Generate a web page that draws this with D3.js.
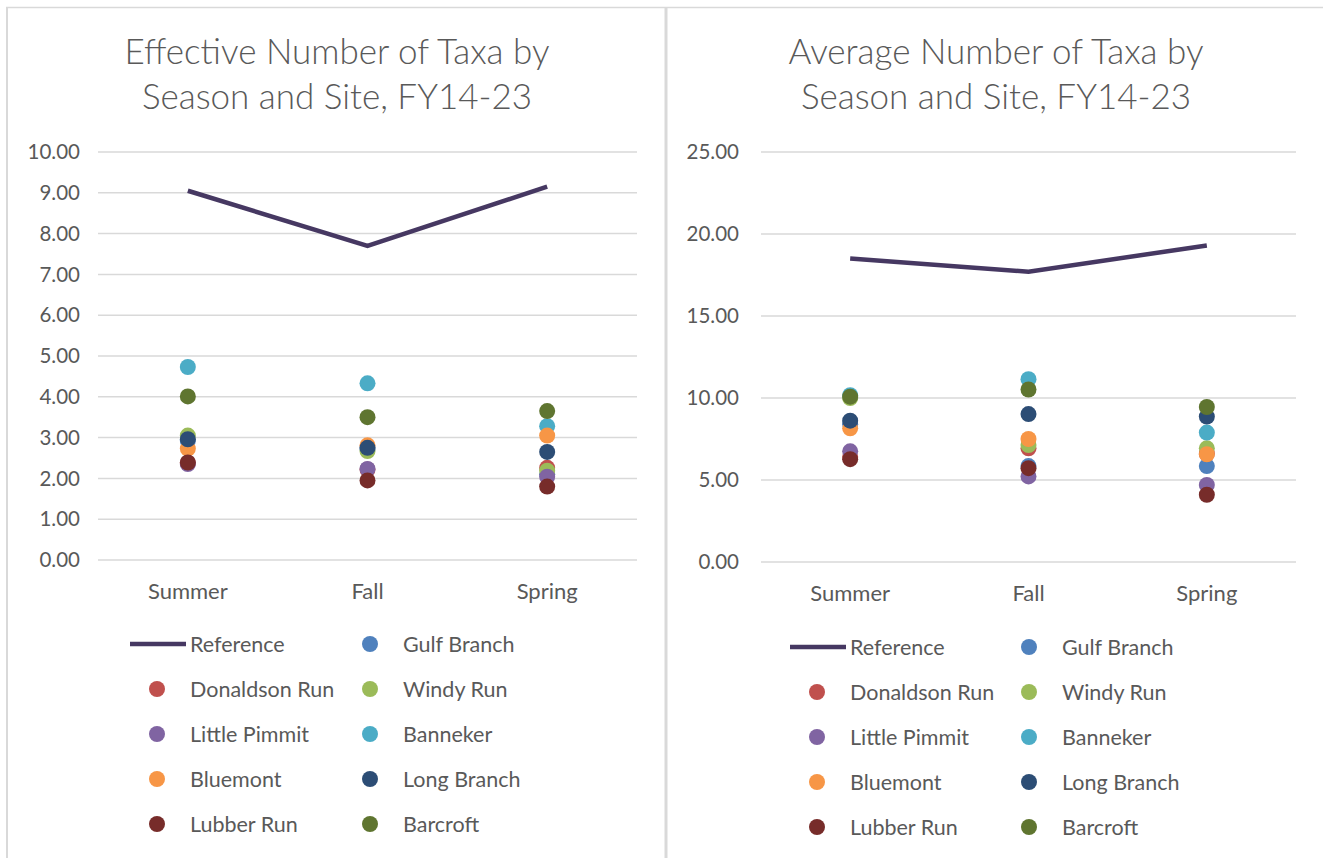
<!DOCTYPE html>
<html>
<head>
<meta charset="utf-8">
<script src="https://cdn.jsdelivr.net/npm/d3@7"></script>
<style>
  body { margin: 0; background: #fff; }
  svg { display: block; }
  text { font-family: Lato, "Open Sans", sans-serif; fill: #595959; }
</style>
</head>
<body>
<svg id="chart" width="1323" height="858"></svg>
<script>
// seasons on the x axis
const seasons = ["Summer", "Fall", "Spring"];

// site names, in legend / draw order
const sites = ["Gulf Branch", "Donaldson Run", "Windy Run", "Little Pimmit", "Banneker",
  "Bluemont", "Long Branch", "Lubber Run", "Barcroft"];
const siteColors = ["#4f81bd", "#c0504d", "#9bbb59", "#8064a2", "#4bacc6",
  "#f79646", "#2c4d75", "#772c2a", "#5f7530"];

// effective number of taxa (left chart), per site: Summer, Fall, Spring
const effReference = [9.05, 7.70, 9.15];
const effSites = [
  [2.92, 2.72, 2.10],
  [2.38, 2.22, 2.26],
  [3.05, 2.67, 2.19],
  [2.35, 2.23, 2.04],
  [4.73, 4.33, 3.28],
  [2.73, 2.81, 3.05],
  [2.96, 2.75, 2.65],
  [2.39, 1.95, 1.80],
  [4.01, 3.50, 3.65]
];
const effTicks = [0, 1, 2, 3, 4, 5, 6, 7, 8, 9, 10];

// average number of taxa (right chart)
const avgReference = [18.5, 17.7, 19.3];
const avgSites = [
  [8.40, 5.85, 5.85],
  [6.40, 6.93, 6.60],
  [10.00, 7.13, 6.93],
  [6.75, 5.22, 4.70],
  [10.17, 11.15, 7.89],
  [8.15, 7.50, 6.57],
  [8.62, 9.02, 8.87],
  [6.27, 5.72, 4.10],
  [10.08, 10.52, 9.45]
];
const avgTicks = [0, 5, 10, 15, 20, 25];

const svg = d3.select("#chart");

// panel borders
svg.append("line").attr("x1", 6).attr("x2", 1323).attr("y1", 7.5).attr("y2", 7.5)
  .attr("stroke", "#d9d9d9").attr("stroke-width", 1.5);
svg.append("line").attr("x1", 7).attr("x2", 7).attr("y1", 7).attr("y2", 858)
  .attr("stroke", "#d9d9d9").attr("stroke-width", 2);
svg.append("line").attr("x1", 666).attr("x2", 666).attr("y1", 7).attr("y2", 858)
  .attr("stroke", "#d9d9d9").attr("stroke-width", 3);

function drawChart(opt) {
  const g = svg.append("g");

  const x = d3.scalePoint().domain(seasons).range([opt.left, opt.right]).padding(0.5);
  const y = d3.scaleLinear().domain([0, d3.max(opt.ticks)]).range([opt.bottom, opt.top]);

  // title
  g.selectAll(".title").data(opt.title).join("text")
    .attr("x", opt.titleX).attr("y", (d, i) => 64 + i * 45)
    .attr("text-anchor", "middle").attr("font-size", 35).attr("font-weight", 300)
    .text(d => d);

  // gridlines + y labels
  g.selectAll(".grid").data(opt.ticks).join("line")
    .attr("x1", opt.left).attr("x2", opt.right)
    .attr("y1", d => y(d)).attr("y2", d => y(d))
    .attr("stroke", "#d9d9d9").attr("stroke-width", 1.5);
  g.selectAll(".ylab").data(opt.ticks).join("text")
    .attr("x", opt.labelX).attr("y", d => y(d)).attr("dy", "0.35em")
    .attr("text-anchor", "end").attr("font-size", 20.5)
    .text(d => d.toFixed(2));

  // x labels
  g.selectAll(".xlab").data(seasons).join("text")
    .attr("x", d => x(d)).attr("y", opt.bottom + 31)
    .attr("dy", "0.35em").attr("text-anchor", "middle").attr("font-size", 22)
    .text(d => d);

  // reference line
  g.append("path")
    .datum(opt.reference)
    .attr("d", d3.line().x((d, i) => x(seasons[i])).y(d => y(d)))
    .attr("fill", "none").attr("stroke", "#463862").attr("stroke-width", 4.5);

  // site dots
  opt.siteData.forEach((vals, s) => {
    g.selectAll(null).data(vals).join("circle")
      .attr("cx", (d, i) => x(seasons[i])).attr("cy", d => y(d))
      .attr("r", 8).attr("fill", siteColors[s]);
  });

  // legend
  const items = ["Reference"].concat(sites);
  items.forEach((name, i) => {
    const col = i % 2, row = Math.floor(i / 2);
    const ly = opt.legendY + row * 45;
    if (i === 0) {
      g.append("line").attr("x1", opt.legendX[0] - 27).attr("x2", opt.legendX[0] + 29)
        .attr("y1", ly).attr("y2", ly).attr("stroke", "#463862").attr("stroke-width", 4.5);
    } else {
      g.append("circle").attr("cx", opt.legendX[col]).attr("cy", ly)
        .attr("r", 8).attr("fill", siteColors[i - 1]);
    }
    g.append("text").attr("x", opt.legendX[col] + 33).attr("y", ly).attr("dy", "0.35em")
      .attr("font-size", 21.5).text(name);
  });
}

drawChart({
  title: ["Effective Number of Taxa by", "Season and Site, FY14-23"],
  titleX: 337, left: 98, right: 637, top: 152, bottom: 560, labelX: 80,
  ticks: effTicks, reference: effReference, siteData: effSites,
  legendX: [157, 370], legendY: 644
});

drawChart({
  title: ["Average Number of Taxa by", "Season and Site, FY14-23"],
  titleX: 996, left: 761, right: 1296, top: 152, bottom: 562, labelX: 739,
  ticks: avgTicks, reference: avgReference, siteData: avgSites,
  legendX: [817, 1029], legendY: 647
});
</script>
</body>
</html>
